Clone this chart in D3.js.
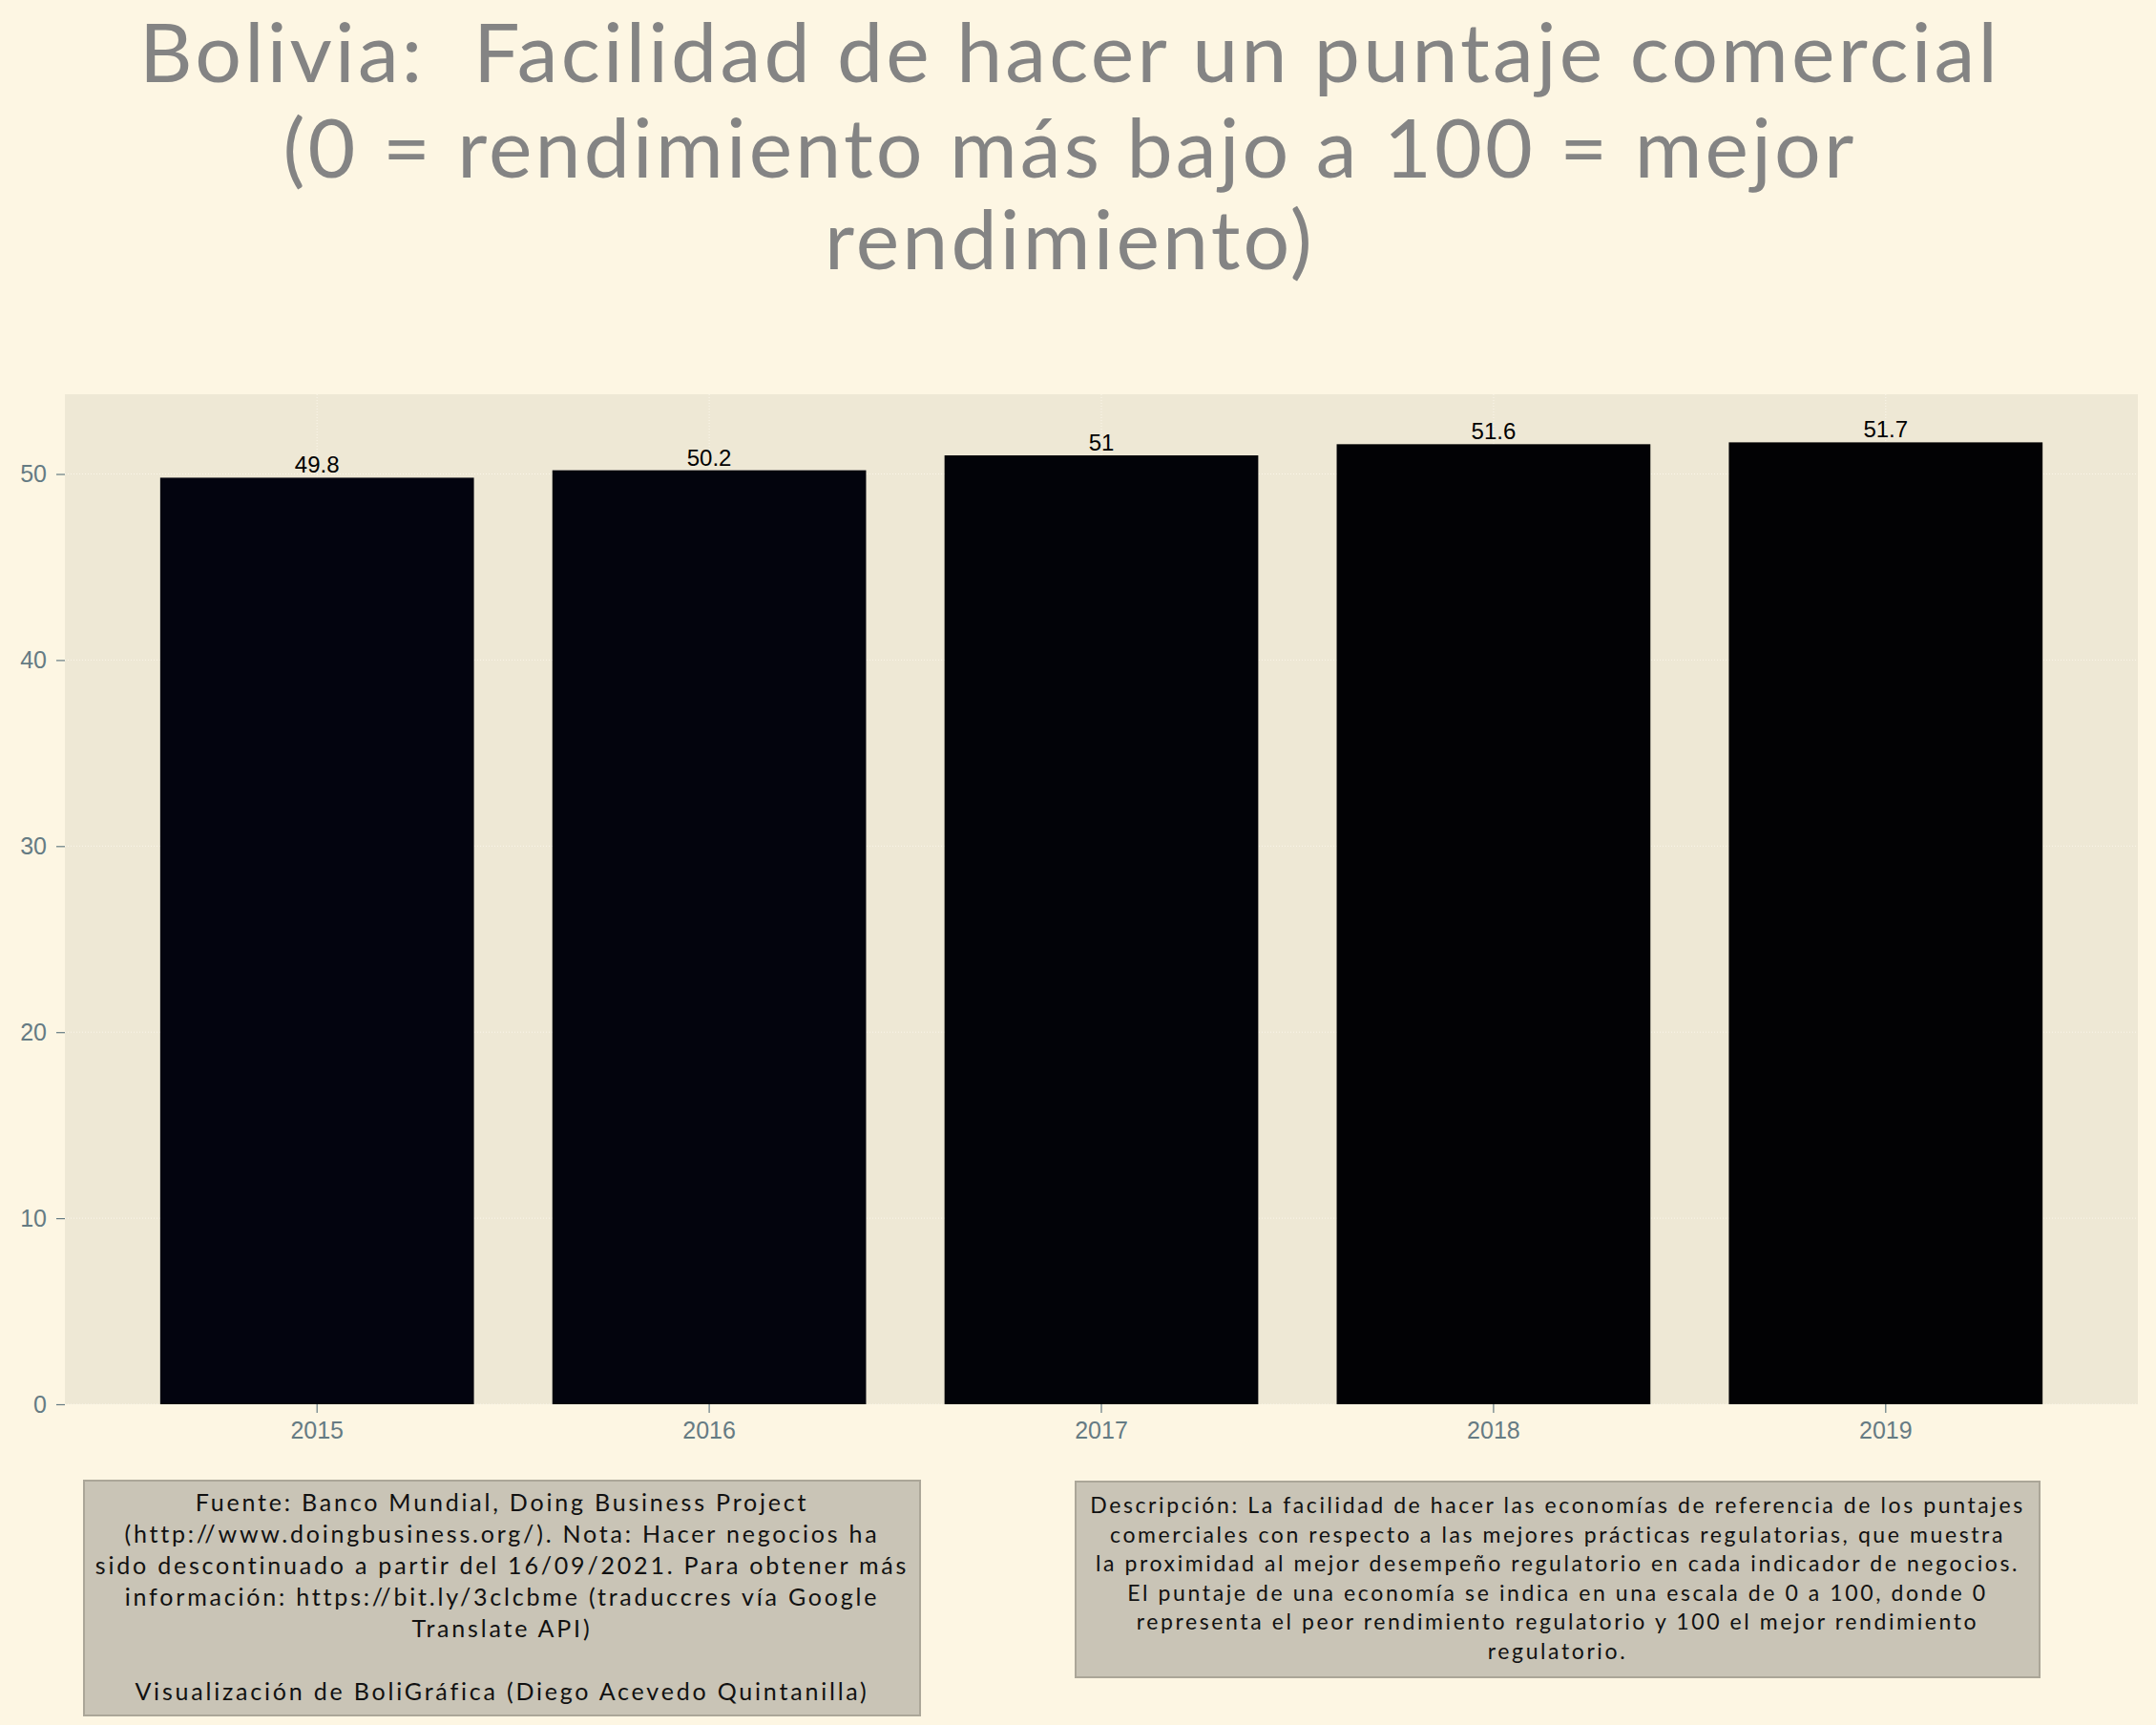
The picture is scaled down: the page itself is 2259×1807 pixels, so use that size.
<!DOCTYPE html>
<html>
<head>
<meta charset="utf-8">
<script src="https://cdn.jsdelivr.net/npm/d3@7"></script>
<style>
  body { margin: 0; background: #fdf6e3; }
  svg { display: block; }
  text { white-space: pre; }
</style>
</head>
<body>
<svg id="chart"></svg>
<script>
// data
const years = ["2015", "2016", "2017", "2018", "2019"];
const scores = [49.8, 50.2, 51, 51.6, 51.7];
const yTicks = [0, 10, 20, 30, 40, 50];

const titleLines = [
  "Bolivia:  Facilidad de hacer un puntaje comercial",
  "(0 = rendimiento más bajo a 100 = mejor",
  "rendimiento)"
];
const sourceLines = [
  "Fuente: Banco Mundial, Doing Business Project",
  "(http://www.doingbusiness.org/). Nota: Hacer negocios ha",
  "sido descontinuado a partir del 16/09/2021. Para obtener más",
  "información: https://bit.ly/3clcbme (traduccres vía Google",
  "Translate API)",
  "",
  "Visualización de BoliGráfica (Diego Acevedo Quintanilla)"
];
const descLines = [
  "Descripción: La facilidad de hacer las economías de referencia de los puntajes",
  "comerciales con respecto a las mejores prácticas regulatorias, que muestra",
  "la proximidad al mejor desempeño regulatorio en cada indicador de negocios.",
  "El puntaje de una economía se indica en una escala de 0 a 100, donde 0",
  "representa el peor rendimiento regulatorio y 100 el mejor rendimiento",
  "regulatorio."
];

const W = 2259, H = 1807;
const margin = { top: 413, right: 19, bottom: 336, left: 68 };
const width = W - margin.left - margin.right;
const height = H - margin.top - margin.bottom;

const svg = d3.select("#chart").attr("width", W).attr("height", H);
svg.append("rect").attr("width", W).attr("height", H).attr("fill", "#fdf6e3");

// title
const textFont = "Lato, 'Open Sans', sans-serif";
svg.append("g").selectAll("text").data(titleLines).join("text")
  .attr("x", 1121)
  .attr("y", (d, i) => [86, 186, 282][i])
  .attr("text-anchor", "middle")
  .style("font-family", textFont)
  .style("font-size", "86px")
  .style("letter-spacing", "3.2px")
  .attr("fill", "#848484")
  .text(d => d);

const chart = svg.append("g").attr("transform", `translate(${margin.left},${margin.top})`);

chart.append("rect").attr("width", width).attr("height", height).attr("fill", "#eee8d5");

// scales
const x = d3.scaleBand().domain(years).range([0, width]).paddingInner(0.2).paddingOuter(0.243);
const y = d3.scaleLinear().domain([0, d3.max(scores) * 1.05]).range([height, 0]);
const fill = d3.scaleLinear().domain(d3.extent(scores)).range(["#03040f", "#020204"]);

// grid
chart.append("g").selectAll("line").data(yTicks).join("line")
  .attr("x1", 0).attr("x2", width)
  .attr("y1", d => y(d)).attr("y2", d => y(d))
  .attr("stroke", "#fbf6ea").attr("stroke-width", 1).attr("stroke-dasharray", "1,2");
chart.append("g").selectAll("line").data(years).join("line")
  .attr("x1", d => x(d) + x.bandwidth() / 2).attr("x2", d => x(d) + x.bandwidth() / 2)
  .attr("y1", 0).attr("y2", height)
  .attr("stroke", "#fbf6ea").attr("stroke-width", 1).attr("stroke-dasharray", "1,2");

// bars
const data = years.map((yr, i) => ({ year: yr, value: scores[i] }));
chart.selectAll("rect.bar").data(data).join("rect").attr("class", "bar")
  .attr("x", d => x(d.year))
  .attr("y", d => y(d.value))
  .attr("width", x.bandwidth())
  .attr("height", d => height - y(d.value))
  .attr("fill", d => fill(d.value));

// bar labels
chart.selectAll("text.lbl").data(data).join("text").attr("class", "lbl")
  .attr("x", d => x(d.year) + x.bandwidth() / 2)
  .attr("y", d => y(d.value) - 5)
  .attr("text-anchor", "middle")
  .style("font-family", "'Liberation Sans', Arial, sans-serif")
  .style("font-size", "24px")
  .attr("fill", "#000")
  .text(d => d.value);

// axes
const axisColor = "#657b83";
const yAxis = chart.append("g")
  .call(d3.axisLeft(y).tickValues(yTicks).tickSize(9).tickPadding(10).tickFormat(d3.format("d")));
const xAxis = chart.append("g").attr("transform", `translate(0,${height})`)
  .call(d3.axisBottom(x).tickSize(9).tickPadding(9));
[yAxis, xAxis].forEach(a => {
  a.select(".domain").remove();
  a.selectAll("line").attr("stroke", axisColor).attr("stroke-width", 1.2);
  a.selectAll("text").attr("fill", axisColor)
    .style("font-family", "'Liberation Sans', Arial, sans-serif")
    .style("font-size", "25px");
});

// caption boxes
function captionBox(x0, y0, w, h, lines, top, step, size, spacing) {
  const g = svg.append("g");
  g.append("rect").attr("x", x0).attr("y", y0).attr("width", w).attr("height", h)
    .attr("fill", "#c9c4b6").attr("stroke", "#aba698").attr("stroke-width", 2);
  g.selectAll("text").data(lines).join("text")
    .attr("x", x0 + w / 2)
    .attr("y", (d, i) => top + i * step)
    .attr("text-anchor", "middle")
    .style("font-family", textFont)
    .style("font-size", size + "px")
    .style("letter-spacing", spacing + "px")
    .attr("fill", "#111")
    .text(d => d);
}
captionBox(88, 1551, 876, 246, sourceLines, 1583, 33, 25, 2.8);
captionBox(1127, 1552, 1010, 205, descLines, 1585, 30.6, 23, 2.6);
</script>
</body>
</html>
